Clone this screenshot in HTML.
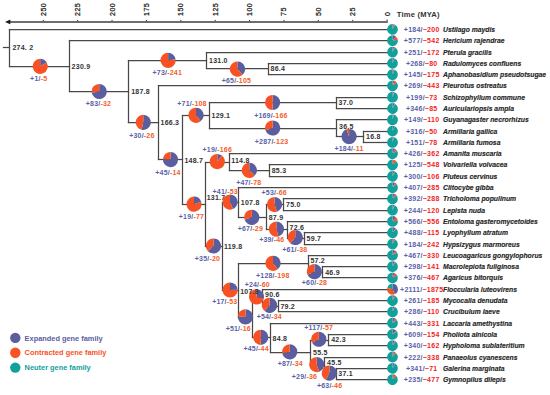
<!DOCTYPE html>
<html><head><meta charset="utf-8"><style>
html,body{margin:0;padding:0;background:#fff;}
body{width:550px;height:395px;overflow:hidden;}
svg{display:block;}
text{font-family:"Liberation Sans",sans-serif;}
.tk{font-size:7.1px;fill:#1a1a1a;stroke:#1a1a1a;stroke-width:0.25px;letter-spacing:0.45px;}
.tm{font-size:7.6px;font-weight:bold;fill:#333;letter-spacing:0.2px;}
.nl{font-size:7px;font-weight:bold;fill:#333333;letter-spacing:0.25px;}
.pl{font-size:7px;font-weight:bold;text-anchor:middle;letter-spacing:0.2px;}
.ll{font-size:7px;font-weight:bold;text-anchor:middle;letter-spacing:0.25px;}
.sp{font-size:6.8px;font-weight:bold;font-style:italic;fill:#262626;stroke:#262626;stroke-width:0.15px;}
.lg{font-size:7.4px;font-weight:bold;}
.t line{stroke:#494949;stroke-width:1.25;stroke-linecap:square;}
</style></head><body>
<svg width="550" height="395" viewBox="0 0 550 395">
<line x1="8" y1="21.9" x2="387.1" y2="21.9" stroke="#6e6e6e" stroke-width="2" style="stroke-linecap:butt"/>
<polygon points="5.0,21.9 10.3,19.6 10.3,24.2" fill="#1a1a1a"/>
<line x1="387.1" y1="22.9" x2="387.1" y2="19.4" stroke="#666" stroke-width="1.3"/>
<text class="tk" transform="translate(389.60,16.0) rotate(-90)">0</text>
<line x1="352.72" y1="21.2" x2="352.72" y2="19.9" stroke="#333" stroke-width="1"/>
<text class="tk" transform="translate(355.22,16.0) rotate(-90)">25</text>
<line x1="318.34" y1="21.2" x2="318.34" y2="19.9" stroke="#333" stroke-width="1"/>
<text class="tk" transform="translate(320.84,16.0) rotate(-90)">50</text>
<line x1="283.95" y1="21.2" x2="283.95" y2="19.9" stroke="#333" stroke-width="1"/>
<text class="tk" transform="translate(286.45,16.0) rotate(-90)">75</text>
<line x1="249.57" y1="21.2" x2="249.57" y2="19.9" stroke="#333" stroke-width="1"/>
<text class="tk" transform="translate(252.07,16.0) rotate(-90)">100</text>
<line x1="215.19" y1="21.2" x2="215.19" y2="19.9" stroke="#333" stroke-width="1"/>
<text class="tk" transform="translate(217.69,16.0) rotate(-90)">125</text>
<line x1="180.81" y1="21.2" x2="180.81" y2="19.9" stroke="#333" stroke-width="1"/>
<text class="tk" transform="translate(183.31,16.0) rotate(-90)">150</text>
<line x1="146.42" y1="21.2" x2="146.42" y2="19.9" stroke="#333" stroke-width="1"/>
<text class="tk" transform="translate(148.92,16.0) rotate(-90)">175</text>
<line x1="112.04" y1="21.2" x2="112.04" y2="19.9" stroke="#333" stroke-width="1"/>
<text class="tk" transform="translate(114.54,16.0) rotate(-90)">200</text>
<line x1="77.66" y1="21.2" x2="77.66" y2="19.9" stroke="#333" stroke-width="1"/>
<text class="tk" transform="translate(80.16,16.0) rotate(-90)">225</text>
<line x1="43.28" y1="21.2" x2="43.28" y2="19.9" stroke="#333" stroke-width="1"/>
<text class="tk" transform="translate(45.78,16.0) rotate(-90)">250</text>
<text class="tm" x="396.8" y="17.0">Time (MYA)</text>
<g class="t">
<line x1="9.50" y1="29.50" x2="392.50" y2="29.50"/>
<line x1="69.50" y1="40.50" x2="392.50" y2="40.50"/>
<line x1="206.50" y1="52.50" x2="392.50" y2="52.50"/>
<line x1="268.50" y1="63.50" x2="392.50" y2="63.50"/>
<line x1="268.50" y1="74.50" x2="392.50" y2="74.50"/>
<line x1="268.50" y1="63.50" x2="268.50" y2="74.50"/>
<line x1="206.50" y1="68.50" x2="268.50" y2="68.50"/>
<line x1="206.50" y1="52.50" x2="206.50" y2="68.50"/>
<line x1="128.50" y1="60.50" x2="206.50" y2="60.50"/>
<line x1="158.50" y1="85.50" x2="392.50" y2="85.50"/>
<line x1="336.50" y1="97.50" x2="392.50" y2="97.50"/>
<line x1="336.50" y1="108.50" x2="392.50" y2="108.50"/>
<line x1="336.50" y1="97.50" x2="336.50" y2="108.50"/>
<line x1="209.50" y1="102.50" x2="336.50" y2="102.50"/>
<line x1="336.50" y1="119.50" x2="392.50" y2="119.50"/>
<line x1="363.50" y1="131.50" x2="392.50" y2="131.50"/>
<line x1="363.50" y1="142.50" x2="392.50" y2="142.50"/>
<line x1="363.50" y1="131.50" x2="363.50" y2="142.50"/>
<line x1="336.50" y1="136.50" x2="363.50" y2="136.50"/>
<line x1="336.50" y1="119.50" x2="336.50" y2="136.50"/>
<line x1="209.50" y1="128.50" x2="336.50" y2="128.50"/>
<line x1="209.50" y1="102.50" x2="209.50" y2="128.50"/>
<line x1="182.50" y1="115.50" x2="209.50" y2="115.50"/>
<line x1="229.50" y1="153.50" x2="392.50" y2="153.50"/>
<line x1="269.50" y1="164.50" x2="392.50" y2="164.50"/>
<line x1="269.50" y1="176.50" x2="392.50" y2="176.50"/>
<line x1="269.50" y1="164.50" x2="269.50" y2="176.50"/>
<line x1="229.50" y1="170.50" x2="269.50" y2="170.50"/>
<line x1="229.50" y1="153.50" x2="229.50" y2="170.50"/>
<line x1="205.50" y1="162.50" x2="229.50" y2="162.50"/>
<line x1="238.50" y1="187.50" x2="392.50" y2="187.50"/>
<line x1="283.50" y1="198.50" x2="392.50" y2="198.50"/>
<line x1="283.50" y1="210.50" x2="392.50" y2="210.50"/>
<line x1="283.50" y1="198.50" x2="283.50" y2="210.50"/>
<line x1="266.50" y1="204.50" x2="283.50" y2="204.50"/>
<line x1="287.50" y1="221.50" x2="392.50" y2="221.50"/>
<line x1="304.50" y1="232.50" x2="392.50" y2="232.50"/>
<line x1="304.50" y1="244.50" x2="392.50" y2="244.50"/>
<line x1="304.50" y1="232.50" x2="304.50" y2="244.50"/>
<line x1="287.50" y1="238.50" x2="304.50" y2="238.50"/>
<line x1="287.50" y1="221.50" x2="287.50" y2="238.50"/>
<line x1="266.50" y1="229.50" x2="287.50" y2="229.50"/>
<line x1="266.50" y1="204.50" x2="266.50" y2="229.50"/>
<line x1="238.50" y1="217.50" x2="266.50" y2="217.50"/>
<line x1="238.50" y1="187.50" x2="238.50" y2="217.50"/>
<line x1="222.50" y1="202.50" x2="238.50" y2="202.50"/>
<line x1="308.50" y1="255.50" x2="392.50" y2="255.50"/>
<line x1="322.50" y1="266.50" x2="392.50" y2="266.50"/>
<line x1="322.50" y1="277.50" x2="392.50" y2="277.50"/>
<line x1="322.50" y1="266.50" x2="322.50" y2="277.50"/>
<line x1="308.50" y1="272.50" x2="322.50" y2="272.50"/>
<line x1="308.50" y1="255.50" x2="308.50" y2="272.50"/>
<line x1="238.50" y1="263.50" x2="308.50" y2="263.50"/>
<line x1="262.50" y1="289.50" x2="392.50" y2="289.50"/>
<line x1="278.50" y1="300.50" x2="392.50" y2="300.50"/>
<line x1="278.50" y1="311.50" x2="392.50" y2="311.50"/>
<line x1="278.50" y1="300.50" x2="278.50" y2="311.50"/>
<line x1="262.50" y1="306.50" x2="278.50" y2="306.50"/>
<line x1="262.50" y1="289.50" x2="262.50" y2="306.50"/>
<line x1="252.50" y1="297.50" x2="262.50" y2="297.50"/>
<line x1="270.50" y1="323.50" x2="392.50" y2="323.50"/>
<line x1="328.50" y1="334.50" x2="392.50" y2="334.50"/>
<line x1="328.50" y1="345.50" x2="392.50" y2="345.50"/>
<line x1="328.50" y1="334.50" x2="328.50" y2="345.50"/>
<line x1="310.50" y1="340.50" x2="328.50" y2="340.50"/>
<line x1="324.50" y1="357.50" x2="392.50" y2="357.50"/>
<line x1="336.50" y1="368.50" x2="392.50" y2="368.50"/>
<line x1="336.50" y1="379.50" x2="392.50" y2="379.50"/>
<line x1="336.50" y1="368.50" x2="336.50" y2="379.50"/>
<line x1="324.50" y1="373.50" x2="336.50" y2="373.50"/>
<line x1="324.50" y1="357.50" x2="324.50" y2="373.50"/>
<line x1="310.50" y1="365.50" x2="324.50" y2="365.50"/>
<line x1="310.50" y1="340.50" x2="310.50" y2="365.50"/>
<line x1="270.50" y1="352.50" x2="310.50" y2="352.50"/>
<line x1="270.50" y1="323.50" x2="270.50" y2="352.50"/>
<line x1="252.50" y1="337.50" x2="270.50" y2="337.50"/>
<line x1="252.50" y1="297.50" x2="252.50" y2="337.50"/>
<line x1="238.50" y1="317.50" x2="252.50" y2="317.50"/>
<line x1="238.50" y1="263.50" x2="238.50" y2="317.50"/>
<line x1="222.50" y1="290.50" x2="238.50" y2="290.50"/>
<line x1="222.50" y1="202.50" x2="222.50" y2="290.50"/>
<line x1="205.50" y1="246.50" x2="222.50" y2="246.50"/>
<line x1="205.50" y1="162.50" x2="205.50" y2="246.50"/>
<line x1="182.50" y1="204.50" x2="205.50" y2="204.50"/>
<line x1="182.50" y1="115.50" x2="182.50" y2="204.50"/>
<line x1="158.50" y1="159.50" x2="182.50" y2="159.50"/>
<line x1="158.50" y1="85.50" x2="158.50" y2="159.50"/>
<line x1="128.50" y1="122.50" x2="158.50" y2="122.50"/>
<line x1="128.50" y1="60.50" x2="128.50" y2="122.50"/>
<line x1="69.50" y1="91.50" x2="128.50" y2="91.50"/>
<line x1="69.50" y1="40.50" x2="69.50" y2="91.50"/>
<line x1="9.50" y1="66.50" x2="69.50" y2="66.50"/>
<line x1="9.50" y1="29.50" x2="9.50" y2="66.50"/>
<line x1="3.50" y1="47.50" x2="9.50" y2="47.50"/>
</g>
<path d="M392.50,29.45L392.50,24.05A5.4,5.4 0 0 1 393.74,24.19Z" fill="#5b5e9e"/><path d="M392.50,29.45L393.74,24.19A5.4,5.4 0 0 1 395.01,24.67Z" fill="#f85224"/><path d="M392.50,29.45L395.01,24.67A5.4,5.4 0 1 1 392.50,24.05Z" fill="#12a09c"/>
<path d="M392.50,40.74L392.50,35.34A5.4,5.4 0 0 1 396.08,36.70Z" fill="#5b5e9e"/><path d="M392.50,40.74L396.08,36.70A5.4,5.4 0 0 1 397.83,39.86Z" fill="#f85224"/><path d="M392.50,40.74L397.83,39.86A5.4,5.4 0 1 1 392.50,35.34Z" fill="#12a09c"/>
<path d="M392.50,52.04L392.50,46.64A5.4,5.4 0 0 1 394.18,46.91Z" fill="#5b5e9e"/><path d="M392.50,52.04L394.18,46.91A5.4,5.4 0 0 1 395.24,47.39Z" fill="#f85224"/><path d="M392.50,52.04L395.24,47.39A5.4,5.4 0 1 1 392.50,46.64Z" fill="#12a09c"/>
<path d="M392.50,63.33L392.50,57.93A5.4,5.4 0 0 1 394.28,58.24Z" fill="#5b5e9e"/><path d="M392.50,63.33L394.28,58.24A5.4,5.4 0 0 1 394.79,58.44Z" fill="#f85224"/><path d="M392.50,63.33L394.79,58.44A5.4,5.4 0 1 1 392.50,57.93Z" fill="#12a09c"/>
<path d="M392.50,74.63L392.50,69.23A5.4,5.4 0 0 1 393.48,69.32Z" fill="#5b5e9e"/><path d="M392.50,74.63L393.48,69.32A5.4,5.4 0 0 1 394.61,69.66Z" fill="#f85224"/><path d="M392.50,74.63L394.61,69.66A5.4,5.4 0 1 1 392.50,69.23Z" fill="#12a09c"/>
<path d="M392.50,85.92L392.50,80.52A5.4,5.4 0 0 1 394.29,80.83Z" fill="#5b5e9e"/><path d="M392.50,85.92L394.29,80.83A5.4,5.4 0 0 1 396.71,82.55Z" fill="#f85224"/><path d="M392.50,85.92L396.71,82.55A5.4,5.4 0 1 1 392.50,80.52Z" fill="#12a09c"/>
<path d="M392.50,97.22L392.50,91.82A5.4,5.4 0 0 1 393.84,91.99Z" fill="#5b5e9e"/><path d="M392.50,97.22L393.84,91.99A5.4,5.4 0 0 1 394.31,92.13Z" fill="#f85224"/><path d="M392.50,97.22L394.31,92.13A5.4,5.4 0 1 1 392.50,91.82Z" fill="#12a09c"/>
<path d="M392.50,108.52L392.50,103.11A5.4,5.4 0 0 1 394.77,103.62Z" fill="#5b5e9e"/><path d="M392.50,108.52L394.77,103.62A5.4,5.4 0 0 1 395.28,103.89Z" fill="#f85224"/><path d="M392.50,108.52L395.28,103.89A5.4,5.4 0 1 1 392.50,103.11Z" fill="#12a09c"/>
<path d="M392.50,119.81L392.50,114.41A5.4,5.4 0 0 1 393.51,114.50Z" fill="#5b5e9e"/><path d="M392.50,119.81L393.51,114.50A5.4,5.4 0 0 1 394.23,114.69Z" fill="#f85224"/><path d="M392.50,119.81L394.23,114.69A5.4,5.4 0 1 1 392.50,114.41Z" fill="#12a09c"/>
<path d="M392.50,131.10L392.50,125.70A5.4,5.4 0 0 1 394.59,126.13Z" fill="#5b5e9e"/><path d="M392.50,131.10L394.59,126.13A5.4,5.4 0 0 1 394.90,126.27Z" fill="#f85224"/><path d="M392.50,131.10L394.90,126.27A5.4,5.4 0 1 1 392.50,125.70Z" fill="#12a09c"/>
<path d="M392.50,142.40L392.50,137.00A5.4,5.4 0 0 1 393.52,137.10Z" fill="#5b5e9e"/><path d="M392.50,142.40L393.52,137.10A5.4,5.4 0 0 1 394.03,137.22Z" fill="#f85224"/><path d="M392.50,142.40L394.03,137.22A5.4,5.4 0 1 1 392.50,137.00Z" fill="#12a09c"/>
<path d="M392.50,153.69L392.50,148.29A5.4,5.4 0 0 1 395.25,149.05Z" fill="#5b5e9e"/><path d="M392.50,153.69L395.25,149.05A5.4,5.4 0 0 1 397.02,150.73Z" fill="#f85224"/><path d="M392.50,153.69L397.02,150.73A5.4,5.4 0 1 1 392.50,148.29Z" fill="#12a09c"/>
<path d="M392.50,164.99L392.50,159.59A5.4,5.4 0 0 1 393.34,159.66Z" fill="#5b5e9e"/><path d="M392.50,164.99L393.34,159.66A5.4,5.4 0 0 1 396.54,161.41Z" fill="#f85224"/><path d="M392.50,164.99L396.54,161.41A5.4,5.4 0 1 1 392.50,159.59Z" fill="#12a09c"/>
<path d="M392.50,176.28L392.50,170.88A5.4,5.4 0 0 1 394.49,171.26Z" fill="#5b5e9e"/><path d="M392.50,176.28L394.49,171.26A5.4,5.4 0 0 1 395.14,171.57Z" fill="#f85224"/><path d="M392.50,176.28L395.14,171.57A5.4,5.4 0 1 1 392.50,170.88Z" fill="#12a09c"/>
<path d="M392.50,187.58L392.50,182.18A5.4,5.4 0 0 1 395.14,182.87Z" fill="#5b5e9e"/><path d="M392.50,187.58L395.14,182.87A5.4,5.4 0 0 1 396.63,184.10Z" fill="#f85224"/><path d="M392.50,187.58L396.63,184.10A5.4,5.4 0 1 1 392.50,182.18Z" fill="#12a09c"/>
<path d="M392.50,198.88L392.50,193.47A5.4,5.4 0 0 1 395.05,194.12Z" fill="#5b5e9e"/><path d="M392.50,198.88L395.05,194.12A5.4,5.4 0 0 1 396.57,195.33Z" fill="#f85224"/><path d="M392.50,198.88L396.57,195.33A5.4,5.4 0 1 1 392.50,193.47Z" fill="#12a09c"/>
<path d="M392.50,210.17L392.50,204.77A5.4,5.4 0 0 1 394.13,205.02Z" fill="#5b5e9e"/><path d="M392.50,210.17L394.13,205.02A5.4,5.4 0 0 1 394.88,205.33Z" fill="#f85224"/><path d="M392.50,210.17L394.88,205.33A5.4,5.4 0 1 1 392.50,204.77Z" fill="#12a09c"/>
<path d="M392.50,221.46L392.50,216.06A5.4,5.4 0 0 1 396.03,217.37Z" fill="#5b5e9e"/><path d="M392.50,221.46L396.03,217.37A5.4,5.4 0 0 1 397.83,220.60Z" fill="#f85224"/><path d="M392.50,221.46L397.83,220.60A5.4,5.4 0 1 1 392.50,216.06Z" fill="#12a09c"/>
<path d="M392.50,232.76L392.50,227.36A5.4,5.4 0 0 1 395.61,228.34Z" fill="#5b5e9e"/><path d="M392.50,232.76L395.61,228.34A5.4,5.4 0 0 1 396.21,228.84Z" fill="#f85224"/><path d="M392.50,232.76L396.21,228.84A5.4,5.4 0 1 1 392.50,227.36Z" fill="#12a09c"/>
<path d="M392.50,244.05L392.50,238.65A5.4,5.4 0 0 1 393.74,238.80Z" fill="#5b5e9e"/><path d="M392.50,244.05L393.74,238.80A5.4,5.4 0 0 1 395.25,239.41Z" fill="#f85224"/><path d="M392.50,244.05L395.25,239.41A5.4,5.4 0 1 1 392.50,238.65Z" fill="#12a09c"/>
<path d="M392.50,255.35L392.50,249.95A5.4,5.4 0 0 1 395.49,250.85Z" fill="#5b5e9e"/><path d="M392.50,255.35L395.49,250.85A5.4,5.4 0 0 1 397.05,252.44Z" fill="#f85224"/><path d="M392.50,255.35L397.05,252.44A5.4,5.4 0 1 1 392.50,249.95Z" fill="#12a09c"/>
<path d="M392.50,266.64L392.50,261.25A5.4,5.4 0 0 1 394.48,261.62Z" fill="#5b5e9e"/><path d="M392.50,266.64L394.48,261.62A5.4,5.4 0 0 1 395.33,262.05Z" fill="#f85224"/><path d="M392.50,266.64L395.33,262.05A5.4,5.4 0 1 1 392.50,261.25Z" fill="#12a09c"/>
<path d="M392.50,277.94L392.50,272.54A5.4,5.4 0 0 1 394.96,273.13Z" fill="#5b5e9e"/><path d="M392.50,277.94L394.96,273.13A5.4,5.4 0 0 1 397.21,275.30Z" fill="#f85224"/><path d="M392.50,277.94L397.21,275.30A5.4,5.4 0 1 1 392.50,272.54Z" fill="#12a09c"/>
<path d="M392.50,289.24L392.50,283.84A5.4,5.4 0 0 1 395.04,294.00Z" fill="#5b5e9e"/><path d="M392.50,289.24L395.04,294.00A5.4,5.4 0 0 1 387.34,287.66Z" fill="#f85224"/><path d="M392.50,289.24L387.34,287.66A5.4,5.4 0 0 1 392.50,283.84Z" fill="#12a09c"/>
<path d="M392.50,300.53L392.50,295.13A5.4,5.4 0 0 1 394.24,295.42Z" fill="#5b5e9e"/><path d="M392.50,300.53L394.24,295.42A5.4,5.4 0 0 1 395.37,295.96Z" fill="#f85224"/><path d="M392.50,300.53L395.37,295.96A5.4,5.4 0 1 1 392.50,295.13Z" fill="#12a09c"/>
<path d="M392.50,311.82L392.50,306.43A5.4,5.4 0 0 1 394.40,306.77Z" fill="#5b5e9e"/><path d="M392.50,311.82L394.40,306.77A5.4,5.4 0 0 1 395.08,307.08Z" fill="#f85224"/><path d="M392.50,311.82L395.08,307.08A5.4,5.4 0 1 1 392.50,306.43Z" fill="#12a09c"/>
<path d="M392.50,323.12L392.50,317.72A5.4,5.4 0 0 1 395.35,318.54Z" fill="#5b5e9e"/><path d="M392.50,323.12L395.35,318.54A5.4,5.4 0 0 1 396.96,320.08Z" fill="#f85224"/><path d="M392.50,323.12L396.96,320.08A5.4,5.4 0 1 1 392.50,317.72Z" fill="#12a09c"/>
<path d="M392.50,334.41L392.50,329.01A5.4,5.4 0 0 1 396.24,330.52Z" fill="#5b5e9e"/><path d="M392.50,334.41L396.24,330.52A5.4,5.4 0 0 1 396.92,331.31Z" fill="#f85224"/><path d="M392.50,334.41L396.92,331.31A5.4,5.4 0 1 1 392.50,329.01Z" fill="#12a09c"/>
<path d="M392.50,345.71L392.50,340.31A5.4,5.4 0 0 1 394.74,340.80Z" fill="#5b5e9e"/><path d="M392.50,345.71L394.74,340.80A5.4,5.4 0 0 1 395.69,341.35Z" fill="#f85224"/><path d="M392.50,345.71L395.69,341.35A5.4,5.4 0 1 1 392.50,340.31Z" fill="#12a09c"/>
<path d="M392.50,357.00L392.50,351.61A5.4,5.4 0 0 1 393.99,351.81Z" fill="#5b5e9e"/><path d="M392.50,357.00L393.99,351.81A5.4,5.4 0 0 1 395.99,352.89Z" fill="#f85224"/><path d="M392.50,357.00L395.99,352.89A5.4,5.4 0 1 1 392.50,351.61Z" fill="#12a09c"/>
<path d="M392.50,368.30L392.50,362.90A5.4,5.4 0 0 1 394.74,363.39Z" fill="#5b5e9e"/><path d="M392.50,368.30L394.74,363.39A5.4,5.4 0 0 1 395.17,363.61Z" fill="#f85224"/><path d="M392.50,368.30L395.17,363.61A5.4,5.4 0 1 1 392.50,362.90Z" fill="#12a09c"/>
<path d="M392.50,379.59L392.50,374.19A5.4,5.4 0 0 1 394.07,374.43Z" fill="#5b5e9e"/><path d="M392.50,379.59L394.07,374.43A5.4,5.4 0 0 1 396.71,376.22Z" fill="#f85224"/><path d="M392.50,379.59L396.71,376.22A5.4,5.4 0 1 1 392.50,374.19Z" fill="#12a09c"/>
<text class="nl" x="270.50" y="71.10">86.4</text>
<text class="nl" x="209.00" y="62.90">131.0</text>
<text class="nl" x="338.50" y="105.20">37.0</text>
<text class="nl" x="366.00" y="139.20">16.8</text>
<text class="nl" x="339.00" y="128.90">36.5</text>
<text class="nl" x="211.50" y="117.70">129.1</text>
<text class="nl" x="271.70" y="173.20">85.3</text>
<text class="nl" x="231.20" y="162.90">114.8</text>
<text class="nl" x="286.00" y="206.90">75.0</text>
<text class="nl" x="306.60" y="240.90">59.7</text>
<text class="nl" x="289.60" y="230.00">72.6</text>
<text class="nl" x="268.70" y="219.70">87.9</text>
<text class="nl" x="240.80" y="204.80">107.8</text>
<text class="nl" x="325.20" y="274.80">46.9</text>
<text class="nl" x="310.40" y="262.80">57.2</text>
<text class="nl" x="280.40" y="308.60">79.2</text>
<text class="nl" x="265.00" y="297.00">90.6</text>
<text class="nl" x="331.20" y="342.40">42.3</text>
<text class="nl" x="338.30" y="376.10">37.1</text>
<text class="nl" x="327.10" y="365.10">45.5</text>
<text class="nl" x="313.00" y="355.40">55.5</text>
<text class="nl" x="272.60" y="341.00">84.8</text>
<text class="nl" x="223.90" y="249.40">119.8</text>
<text class="nl" x="206.70" y="200.10">131.7</text>
<text class="nl" x="184.40" y="162.70">148.7</text>
<text class="nl" x="160.50" y="124.70">166.3</text>
<text class="nl" x="131.20" y="94.20">187.8</text>
<text class="nl" x="71.60" y="69.10">230.9</text>
<text class="nl" x="12.40" y="50.20">274. 2</text>
<path d="M237.40,69.10L237.40,61.50A7.6,7.6 0 0 1 242.52,74.72Z" fill="#5b5e9e"/><path d="M237.40,69.10L242.52,74.72A7.6,7.6 0 1 1 237.40,61.50Z" fill="#f85224"/>
<path d="M168.10,60.30L168.10,52.70A7.6,7.6 0 0 1 175.65,59.47Z" fill="#5b5e9e"/><path d="M168.10,60.30L175.65,59.47A7.6,7.6 0 1 1 168.10,52.70Z" fill="#f85224"/>
<path d="M272.70,102.50L272.70,94.90A7.6,7.6 0 1 1 272.49,110.10Z" fill="#5b5e9e"/><path d="M272.70,102.50L272.49,110.10A7.6,7.6 0 0 1 272.70,94.90Z" fill="#f85224"/>
<path d="M349.10,136.50L349.10,128.90A7.6,7.6 0 1 1 346.46,129.37Z" fill="#5b5e9e"/><path d="M349.10,136.50L346.46,129.37A7.6,7.6 0 0 1 349.10,128.90Z" fill="#f85224"/>
<path d="M272.70,128.00L272.70,120.40A7.6,7.6 0 1 1 265.47,130.35Z" fill="#5b5e9e"/><path d="M272.70,128.00L265.47,130.35A7.6,7.6 0 0 1 272.70,120.40Z" fill="#f85224"/>
<path d="M196.00,115.30L196.00,107.70A7.6,7.6 0 0 1 200.60,121.35Z" fill="#5b5e9e"/><path d="M196.00,115.30L200.60,121.35A7.6,7.6 0 1 1 196.00,107.70Z" fill="#f85224"/>
<path d="M249.30,170.40L249.30,162.80A7.6,7.6 0 0 1 254.64,175.81Z" fill="#5b5e9e"/><path d="M249.30,170.40L254.64,175.81A7.6,7.6 0 1 1 249.30,162.80Z" fill="#f85224"/>
<path d="M217.30,161.60L217.30,154.00A7.6,7.6 0 0 1 221.87,155.53Z" fill="#5b5e9e"/><path d="M217.30,161.60L221.87,155.53A7.6,7.6 0 1 1 217.30,154.00Z" fill="#f85224"/>
<path d="M274.50,204.50L274.50,196.90A7.6,7.6 0 0 1 277.06,211.66Z" fill="#5b5e9e"/><path d="M274.50,204.50L277.06,211.66A7.6,7.6 0 1 1 274.50,196.90Z" fill="#f85224"/>
<path d="M295.30,237.50L295.30,229.90A7.6,7.6 0 1 1 290.23,243.16Z" fill="#5b5e9e"/><path d="M295.30,237.50L290.23,243.16A7.6,7.6 0 0 1 295.30,229.90Z" fill="#f85224"/>
<path d="M276.40,229.10L276.40,221.50A7.6,7.6 0 0 1 278.34,236.45Z" fill="#5b5e9e"/><path d="M276.40,229.10L278.34,236.45A7.6,7.6 0 1 1 276.40,221.50Z" fill="#f85224"/>
<path d="M251.80,217.30L251.80,209.70A7.6,7.6 0 1 1 244.60,219.74Z" fill="#5b5e9e"/><path d="M251.80,217.30L244.60,219.74A7.6,7.6 0 0 1 251.80,209.70Z" fill="#f85224"/>
<path d="M230.00,202.00L230.00,194.40A7.6,7.6 0 0 1 232.97,209.00Z" fill="#5b5e9e"/><path d="M230.00,202.00L232.97,209.00A7.6,7.6 0 1 1 230.00,194.40Z" fill="#f85224"/>
<path d="M314.40,271.70L314.40,264.10A7.6,7.6 0 1 1 307.49,274.86Z" fill="#5b5e9e"/><path d="M314.40,271.70L307.49,274.86A7.6,7.6 0 0 1 314.40,264.10Z" fill="#f85224"/>
<path d="M273.00,263.30L273.00,255.70A7.6,7.6 0 0 1 277.75,269.24Z" fill="#5b5e9e"/><path d="M273.00,263.30L277.75,269.24A7.6,7.6 0 1 1 273.00,255.70Z" fill="#f85224"/>
<path d="M269.60,305.30L269.60,297.70A7.6,7.6 0 1 1 264.62,311.04Z" fill="#5b5e9e"/><path d="M269.60,305.30L264.62,311.04A7.6,7.6 0 0 1 269.60,297.70Z" fill="#f85224"/>
<path d="M256.60,296.90L256.60,289.30A7.6,7.6 0 0 1 264.01,298.59Z" fill="#5b5e9e"/><path d="M256.60,296.90L264.01,298.59A7.6,7.6 0 1 1 256.60,289.30Z" fill="#f85224"/>
<path d="M318.80,339.25L318.80,331.65A7.6,7.6 0 1 1 312.09,342.81Z" fill="#5b5e9e"/><path d="M318.80,339.25L312.09,342.81A7.6,7.6 0 0 1 318.80,331.65Z" fill="#f85224"/>
<path d="M329.40,373.00L329.40,365.40A7.6,7.6 0 1 1 325.82,379.71Z" fill="#5b5e9e"/><path d="M329.40,373.00L325.82,379.71A7.6,7.6 0 0 1 329.40,365.40Z" fill="#f85224"/>
<path d="M316.70,364.50L316.70,356.90A7.6,7.6 0 0 1 319.22,371.67Z" fill="#5b5e9e"/><path d="M316.70,364.50L319.22,371.67A7.6,7.6 0 1 1 316.70,356.90Z" fill="#f85224"/>
<path d="M289.70,351.90L289.70,344.30A7.6,7.6 0 1 1 282.24,353.37Z" fill="#5b5e9e"/><path d="M289.70,351.90L282.24,353.37A7.6,7.6 0 0 1 289.70,344.30Z" fill="#f85224"/>
<path d="M260.90,337.30L260.90,329.70A7.6,7.6 0 1 1 260.63,344.90Z" fill="#5b5e9e"/><path d="M260.90,337.30L260.63,344.90A7.6,7.6 0 0 1 260.90,329.70Z" fill="#f85224"/>
<path d="M245.40,316.90L245.40,309.30A7.6,7.6 0 1 1 237.82,316.37Z" fill="#5b5e9e"/><path d="M245.40,316.90L237.82,316.37A7.6,7.6 0 0 1 245.40,309.30Z" fill="#f85224"/>
<path d="M230.00,290.00L230.00,282.40A7.6,7.6 0 0 1 237.59,289.66Z" fill="#5b5e9e"/><path d="M230.00,290.00L237.59,289.66A7.6,7.6 0 1 1 230.00,282.40Z" fill="#f85224"/>
<path d="M213.50,246.00L213.50,238.40A7.6,7.6 0 1 1 207.76,250.98Z" fill="#5b5e9e"/><path d="M213.50,246.00L207.76,250.98A7.6,7.6 0 0 1 213.50,238.40Z" fill="#f85224"/>
<path d="M194.00,204.20L194.00,196.60A7.6,7.6 0 0 1 201.20,201.76Z" fill="#5b5e9e"/><path d="M194.00,204.20L201.20,201.76A7.6,7.6 0 1 1 194.00,196.60Z" fill="#f85224"/>
<path d="M170.50,159.60L170.50,152.00A7.6,7.6 0 1 1 162.92,158.99Z" fill="#5b5e9e"/><path d="M170.50,159.60L162.92,158.99A7.6,7.6 0 0 1 170.50,152.00Z" fill="#f85224"/>
<path d="M143.30,122.30L143.30,114.70A7.6,7.6 0 1 1 141.61,129.71Z" fill="#5b5e9e"/><path d="M143.30,122.30L141.61,129.71A7.6,7.6 0 0 1 143.30,114.70Z" fill="#f85224"/>
<path d="M99.20,91.50L99.20,83.90A7.6,7.6 0 1 1 91.72,92.84Z" fill="#5b5e9e"/><path d="M99.20,91.50L91.72,92.84A7.6,7.6 0 0 1 99.20,83.90Z" fill="#f85224"/>
<path d="M40.20,66.30L40.20,58.70A7.6,7.6 0 0 1 46.78,62.50Z" fill="#5b5e9e"/><path d="M40.20,66.30L46.78,62.50A7.6,7.6 0 1 1 40.20,58.70Z" fill="#f85224"/>
<text class="pl" x="236.40" y="82.80"><tspan fill="#5a5fa8">+65/</tspan><tspan fill="#f2602c">-105</tspan></text>
<text class="pl" x="167.30" y="75.30"><tspan fill="#5a5fa8">+73/</tspan><tspan fill="#f2602c">-241</tspan></text>
<text class="pl" x="270.90" y="117.90"><tspan fill="#5a5fa8">+169/</tspan><tspan fill="#f2602c">-166</tspan></text>
<text class="pl" x="349.00" y="151.40"><tspan fill="#5a5fa8">+184/</tspan><tspan fill="#f2602c">-11</tspan></text>
<text class="pl" x="271.60" y="143.70"><tspan fill="#5a5fa8">+287/</tspan><tspan fill="#f2602c">-123</tspan></text>
<text class="pl" x="192.00" y="106.40"><tspan fill="#5a5fa8">+71/</tspan><tspan fill="#f2602c">-108</tspan></text>
<text class="pl" x="248.80" y="184.80"><tspan fill="#5a5fa8">+47/</tspan><tspan fill="#f2602c">-78</tspan></text>
<text class="pl" x="217.30" y="152.40"><tspan fill="#5a5fa8">+19/</tspan><tspan fill="#f2602c">-166</tspan></text>
<text class="pl" x="274.20" y="194.80"><tspan fill="#5a5fa8">+53/</tspan><tspan fill="#f2602c">-66</tspan></text>
<text class="pl" x="294.80" y="252.10"><tspan fill="#5a5fa8">+61/</tspan><tspan fill="#f2602c">-38</tspan></text>
<text class="pl" x="271.80" y="242.40"><tspan fill="#5a5fa8">+39/</tspan><tspan fill="#f2602c">-46</tspan></text>
<text class="pl" x="250.40" y="231.10"><tspan fill="#5a5fa8">+67/</tspan><tspan fill="#f2602c">-29</tspan></text>
<text class="pl" x="225.20" y="193.80"><tspan fill="#5a5fa8">+41/</tspan><tspan fill="#f2602c">-53</tspan></text>
<text class="pl" x="314.50" y="285.10"><tspan fill="#5a5fa8">+60/</tspan><tspan fill="#f2602c">-28</tspan></text>
<text class="pl" x="272.80" y="277.90"><tspan fill="#5a5fa8">+128/</tspan><tspan fill="#f2602c">-198</tspan></text>
<text class="pl" x="269.30" y="319.20"><tspan fill="#5a5fa8">+54/</tspan><tspan fill="#f2602c">-34</tspan></text>
<text class="pl" x="257.30" y="286.90"><tspan fill="#5a5fa8">+24/</tspan><tspan fill="#f2602c">-60</tspan></text>
<text class="pl" x="318.70" y="330.20"><tspan fill="#5a5fa8">+117/</tspan><tspan fill="#f2602c">-57</tspan></text>
<text class="pl" x="329.60" y="388.20"><tspan fill="#5a5fa8">+63/</tspan><tspan fill="#f2602c">-46</tspan></text>
<text class="pl" x="304.50" y="378.80"><tspan fill="#5a5fa8">+29/</tspan><tspan fill="#f2602c">-36</tspan></text>
<text class="pl" x="290.30" y="366.00"><tspan fill="#5a5fa8">+87/</tspan><tspan fill="#f2602c">-34</tspan></text>
<text class="pl" x="256.10" y="350.50"><tspan fill="#5a5fa8">+45/</tspan><tspan fill="#f2602c">-44</tspan></text>
<text class="pl" x="238.30" y="330.80"><tspan fill="#5a5fa8">+51/</tspan><tspan fill="#f2602c">-16</tspan></text>
<text class="nl" x="240.20" y="293.90">107.8</text>
<text class="pl" x="224.80" y="304.40"><tspan fill="#5a5fa8">+17/</tspan><tspan fill="#f2602c">-53</tspan></text>
<text class="pl" x="207.50" y="261.40"><tspan fill="#5a5fa8">+35/</tspan><tspan fill="#f2602c">-20</tspan></text>
<text class="pl" x="191.50" y="218.60"><tspan fill="#5a5fa8">+19/</tspan><tspan fill="#f2602c">-77</tspan></text>
<text class="pl" x="168.00" y="174.60"><tspan fill="#5a5fa8">+45/</tspan><tspan fill="#f2602c">-14</tspan></text>
<text class="pl" x="141.90" y="138.10"><tspan fill="#5a5fa8">+30/</tspan><tspan fill="#f2602c">-26</tspan></text>
<text class="pl" x="98.50" y="106.40"><tspan fill="#5a5fa8">+83/</tspan><tspan fill="#f2602c">-32</tspan></text>
<text class="pl" x="38.70" y="81.30"><tspan fill="#5a5fa8">+1/</tspan><tspan fill="#f2602c">-5</tspan></text>
<text class="ll" x="421.7" y="31.95"><tspan fill="#5a5fa8">+184/</tspan><tspan fill="#f42424">−200</tspan></text>
<text class="sp" x="443.0" y="31.95">Ustilago maydis</text>
<text class="ll" x="421.7" y="43.24"><tspan fill="#5a5fa8">+577/</tspan><tspan fill="#f42424">−542</tspan></text>
<text class="sp" x="443.0" y="43.24">Hericium rajendrae</text>
<text class="ll" x="421.7" y="54.54"><tspan fill="#5a5fa8">+251/</tspan><tspan fill="#f42424">−172</tspan></text>
<text class="sp" x="443.0" y="54.54">Pterula gracilis</text>
<text class="ll" x="421.7" y="65.83"><tspan fill="#5a5fa8">+268/</tspan><tspan fill="#f42424">−80</tspan></text>
<text class="sp" x="443.0" y="65.83">Radulomyces confluens</text>
<text class="ll" x="421.7" y="77.13"><tspan fill="#5a5fa8">+145/</tspan><tspan fill="#f42424">−175</tspan></text>
<text class="sp" x="443.0" y="77.13">Aphanobasidium pseudotsugae</text>
<text class="ll" x="421.7" y="88.42"><tspan fill="#5a5fa8">+269/</tspan><tspan fill="#f42424">−443</tspan></text>
<text class="sp" x="443.0" y="88.42">Pleurotus ostreatus</text>
<text class="ll" x="421.7" y="99.72"><tspan fill="#5a5fa8">+199/</tspan><tspan fill="#f42424">−73</tspan></text>
<text class="sp" x="443.0" y="99.72">Schizophyllum commune</text>
<text class="ll" x="421.7" y="111.02"><tspan fill="#5a5fa8">+346/</tspan><tspan fill="#f42424">−85</tspan></text>
<text class="sp" x="443.0" y="111.02">Auriculariopsis ampla</text>
<text class="ll" x="421.7" y="122.31"><tspan fill="#5a5fa8">+149/</tspan><tspan fill="#f42424">−110</tspan></text>
<text class="sp" x="443.0" y="122.31">Guyanagaster necrorhizus</text>
<text class="ll" x="421.7" y="133.60"><tspan fill="#5a5fa8">+316/</tspan><tspan fill="#f42424">−50</tspan></text>
<text class="sp" x="443.0" y="133.60">Armillaria gallica</text>
<text class="ll" x="421.7" y="144.90"><tspan fill="#5a5fa8">+151/</tspan><tspan fill="#f42424">−78</tspan></text>
<text class="sp" x="443.0" y="144.90">Armillaria fumosa</text>
<text class="ll" x="421.7" y="156.19"><tspan fill="#5a5fa8">+426/</tspan><tspan fill="#f42424">−362</tspan></text>
<text class="sp" x="443.0" y="156.19">Amanita muscaria</text>
<text class="ll" x="421.7" y="167.49"><tspan fill="#5a5fa8">+125/</tspan><tspan fill="#f42424">−548</tspan></text>
<text class="sp" x="443.0" y="167.49">Volvariella volvacea</text>
<text class="ll" x="421.7" y="178.78"><tspan fill="#5a5fa8">+300/</tspan><tspan fill="#f42424">−106</tspan></text>
<text class="sp" x="443.0" y="178.78">Pluteus cervinus</text>
<text class="ll" x="421.7" y="190.08"><tspan fill="#5a5fa8">+407/</tspan><tspan fill="#f42424">−285</tspan></text>
<text class="sp" x="443.0" y="190.08">Clitocybe gibba</text>
<text class="ll" x="421.7" y="201.38"><tspan fill="#5a5fa8">+392/</tspan><tspan fill="#f42424">−288</tspan></text>
<text class="sp" x="443.0" y="201.38">Tricholoma populinum</text>
<text class="ll" x="421.7" y="212.67"><tspan fill="#5a5fa8">+244/</tspan><tspan fill="#f42424">−120</tspan></text>
<text class="sp" x="443.0" y="212.67">Lepista nuda</text>
<text class="ll" x="421.7" y="223.96"><tspan fill="#5a5fa8">+566/</tspan><tspan fill="#f42424">−556</tspan></text>
<text class="sp" x="443.0" y="223.96">Entoloma gasteromycetoides</text>
<text class="ll" x="421.7" y="235.26"><tspan fill="#5a5fa8">+488/</tspan><tspan fill="#f42424">−115</tspan></text>
<text class="sp" x="443.0" y="235.26">Lyophyllum atratum</text>
<text class="ll" x="421.7" y="246.55"><tspan fill="#5a5fa8">+184/</tspan><tspan fill="#f42424">−242</tspan></text>
<text class="sp" x="443.0" y="246.55">Hypsizygus marmoreus</text>
<text class="ll" x="421.7" y="257.85"><tspan fill="#5a5fa8">+467/</tspan><tspan fill="#f42424">−330</tspan></text>
<text class="sp" x="443.0" y="257.85">Leucoagaricus gongylophorus</text>
<text class="ll" x="421.7" y="269.14"><tspan fill="#5a5fa8">+298/</tspan><tspan fill="#f42424">−141</tspan></text>
<text class="sp" x="443.0" y="269.14">Macrolepiota fuliginosa</text>
<text class="ll" x="421.7" y="280.44"><tspan fill="#5a5fa8">+376/</tspan><tspan fill="#f42424">−467</tspan></text>
<text class="sp" x="443.0" y="280.44">Agaricus bitorquis</text>
<text class="ll" x="421.7" y="291.74"><tspan fill="#5a5fa8">+2111/</tspan><tspan fill="#f42424">−1875</tspan></text>
<text class="sp" x="443.0" y="291.74">Floccularia luteovirens</text>
<text class="ll" x="421.7" y="303.03"><tspan fill="#5a5fa8">+261/</tspan><tspan fill="#f42424">−185</tspan></text>
<text class="sp" x="443.0" y="303.03">Mycocalia denudata</text>
<text class="ll" x="421.7" y="314.32"><tspan fill="#5a5fa8">+286/</tspan><tspan fill="#f42424">−110</tspan></text>
<text class="sp" x="443.0" y="314.32">Crucibulum laeve</text>
<text class="ll" x="421.7" y="325.62"><tspan fill="#5a5fa8">+443/</tspan><tspan fill="#f42424">−331</tspan></text>
<text class="sp" x="443.0" y="325.62">Laccaria amethystina</text>
<text class="ll" x="421.7" y="336.91"><tspan fill="#5a5fa8">+609/</tspan><tspan fill="#f42424">−154</tspan></text>
<text class="sp" x="443.0" y="336.91">Pholiota alnicola</text>
<text class="ll" x="421.7" y="348.21"><tspan fill="#5a5fa8">+340/</tspan><tspan fill="#f42424">−162</tspan></text>
<text class="sp" x="443.0" y="348.21">Hypholoma sublateritium</text>
<text class="ll" x="421.7" y="359.50"><tspan fill="#5a5fa8">+222/</tspan><tspan fill="#f42424">−338</tspan></text>
<text class="sp" x="443.0" y="359.50">Panaeolus cyanescens</text>
<text class="ll" x="421.7" y="370.80"><tspan fill="#5a5fa8">+341/</tspan><tspan fill="#f42424">−71</tspan></text>
<text class="sp" x="443.0" y="370.80">Galerina marginata</text>
<text class="ll" x="421.7" y="382.09"><tspan fill="#5a5fa8">+235/</tspan><tspan fill="#f42424">−477</tspan></text>
<text class="sp" x="443.0" y="382.09">Gymnopilus dilepis</text>
<circle cx="15.3" cy="337.9" r="5.2" fill="#5b5e9e"/>
<text class="lg" x="24.6" y="340.5" fill="#5b5e9e">Expanded gene family</text>
<circle cx="15.3" cy="352.7" r="5.2" fill="#f85224"/>
<text class="lg" x="24.6" y="355.3" fill="#f85224">Contracted gene family</text>
<circle cx="15.3" cy="367.6" r="5.2" fill="#12a09c"/>
<text class="lg" x="24.6" y="370.2" fill="#12a09c">Neuter gene family</text>
</svg>
</body></html>
